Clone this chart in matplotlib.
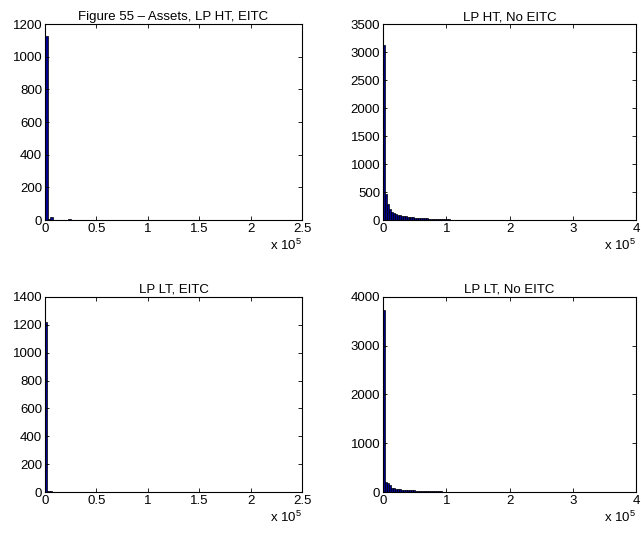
#!/usr/bin/env python3
"""Figure 55 - asset distributions, four histograms"""
import matplotlib
matplotlib.use('Agg')
import matplotlib.pyplot as plt
import numpy as np
from matplotlib.ticker import FuncFormatter, MultipleLocator

plt.rcParams['font.family'] = ['Liberation Sans', 'DejaVu Sans']
plt.rcParams['mathtext.default'] = 'regular'

# Histogram counts (100 bins each)
bin_width_lp_ht_eitc = 2500
counts_lp_ht_eitc = [1130, 5, 20, 3, 2, 1, 1, 2, 1, 8,
                     2, 1, 1, 3, 2, 1, 1, 1, 0, 1,
                     1, 0, 1, 1, 0, 1, 0, 0, 1, 0,
                     1, 0, 0, 1, 0, 0, 1, 0, 0, 0,
                     1, 0, 0, 0, 1, 0, 0, 0, 0, 1,
                     0, 0, 1, 0, 0, 0, 0, 1, 0, 0,
                     0, 0, 1, 0, 0, 0, 0, 0, 1, 0,
                     0, 0, 0, 1, 0, 0, 0, 0, 0, 1,
                     0, 0, 0, 0, 0, 1, 0, 0, 0, 0,
                     0, 1, 0, 0, 0, 0, 0, 0, 0, 1]

bin_width_lp_ht_no = 3100
counts_lp_ht_no = [3130, 470, 280, 200, 150, 120, 100, 90, 82, 75,
                   70, 65, 60, 55, 50, 46, 42, 40, 37, 34,
                   32, 30, 28, 26, 24, 22, 20, 18, 16, 15,
                   14, 12, 11, 10, 9, 8, 7, 6, 5, 4,
                   3, 3, 2, 2, 2, 2, 2, 2, 1, 2,
                   1, 1, 2, 1, 1, 1, 2, 1, 1, 1,
                   1, 1, 1, 1, 0, 1, 1, 1, 0, 1,
                   1, 0, 1, 1, 0, 1, 0, 1, 1, 0,
                   1, 0, 1, 0, 1, 0, 0, 1, 0, 1,
                   0, 1, 0, 0, 1, 0, 0, 1, 0, 1]

bin_width_lp_lt_eitc = 2250
counts_lp_lt_eitc = [1220, 10, 4, 2, 1, 1, 1, 2, 1, 3,
                     1, 1, 0, 1, 1, 0, 1, 0, 1, 0,
                     1, 0, 0, 1, 0, 1, 0, 0, 1, 0,
                     0, 1, 0, 0, 1, 0, 0, 0, 1, 0,
                     0, 1, 0, 0, 0, 1, 0, 0, 0, 1,
                     0, 0, 0, 1, 0, 0, 0, 0, 1, 0,
                     0, 0, 1, 0, 0, 0, 0, 1, 0, 0,
                     0, 0, 0, 1, 0, 0, 0, 0, 1, 0,
                     0, 0, 0, 0, 1, 0, 0, 0, 0, 0,
                     1, 0, 0, 0, 0, 0, 0, 0, 0, 1]

bin_width_lp_lt_no = 3200
counts_lp_lt_no = [3740, 200, 180, 150, 80, 75, 70, 60, 55, 50,
                   50, 45, 40, 40, 35, 32, 30, 28, 27, 25,
                   24, 22, 20, 20, 18, 16, 15, 13, 12, 10,
                   9, 8, 7, 6, 5, 4, 4, 3, 3, 2,
                   2, 2, 2, 2, 1, 2, 1, 1, 2, 1,
                   1, 1, 1, 1, 1, 0, 1, 1, 1, 0,
                   1, 1, 0, 1, 1, 0, 1, 0, 1, 1,
                   0, 1, 0, 1, 0, 1, 0, 1, 0, 1,
                   0, 1, 0, 0, 1, 0, 1, 0, 0, 1,
                   0, 1, 0, 0, 1, 0, 0, 1, 0, 1]

titles = ['Figure 55 \u2013 Assets, LP HT, EITC', 'LP HT, No EITC',
          'LP LT, EITC', 'LP LT, No EITC']
xmax = [2.5e5, 4e5, 2.5e5, 4e5]
xstep = [0.5e5, 1e5, 0.5e5, 1e5]
ymax = [1200, 3500, 1400, 4000]
ystep = [200, 500, 200, 1000]

panels = [(bin_width_lp_ht_eitc, counts_lp_ht_eitc),
          (bin_width_lp_ht_no, counts_lp_ht_no),
          (bin_width_lp_lt_eitc, counts_lp_lt_eitc),
          (bin_width_lp_lt_no, counts_lp_lt_no)]

positions = [[0.0702, 0.591, 0.401, 0.364],
             [0.5975, 0.591, 0.395, 0.364],
             [0.0702, 0.0855, 0.401, 0.3625],
             [0.5975, 0.0855, 0.395, 0.3625]]

fig = plt.figure(figsize=(6.41, 5.38), dpi=100)

for i, (bw, counts) in enumerate(panels):
    ax = fig.add_axes(positions[i])
    edges = np.arange(len(counts)) * bw
    ax.bar(edges, counts, width=bw, align='edge',
           color='#000090', edgecolor='black', linewidth=0.5)
    ax.set_xlim(0, xmax[i])
    ax.set_ylim(0, ymax[i])
    ax.xaxis.set_major_locator(MultipleLocator(xstep[i]))
    ax.yaxis.set_major_locator(MultipleLocator(ystep[i]))
    ax.xaxis.set_major_formatter(FuncFormatter(lambda v, p: f'{v / 1e5:g}'))
    ax.tick_params(direction='in', length=3, width=0.6, labelsize=9.5,
                   top=True, right=True, pad=2)
    for s in ax.spines.values():
        s.set_linewidth(0.8)
    ax.set_title(titles[i], fontsize=9.5, pad=3)
    ax.text(1.0, -0.13, r'x 10$^5$', transform=ax.transAxes,
            ha='right', va='center', fontsize=9.5)

plt.savefig('out.png', dpi=100)
